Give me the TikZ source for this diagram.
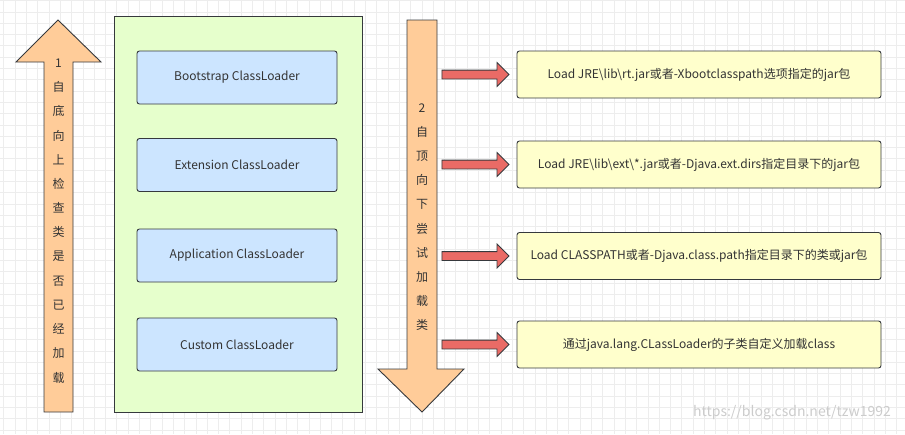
\documentclass[tikz,border=0pt]{standalone}
\usepackage{fontspec}
\setmainfont{Noto Sans CJK SC}
\usetikzlibrary{shapes.arrows,calc}

\definecolor{orangefill}{HTML}{FFCC99}
\definecolor{greenfill}{HTML}{E6FFCC}
\definecolor{bluefill}{HTML}{CCE5FF}
\definecolor{yellowfill}{HTML}{FFFFCC}
\definecolor{redfill}{HTML}{EA6B66}
\definecolor{edge}{HTML}{36393D}
\definecolor{ink}{HTML}{333333}

\begin{document}
\begin{tikzpicture}[x=1pt, y=-1pt,
    every node/.style={font=\fontsize{12}{14}\selectfont, text=ink},
    gridline/.style={draw=black!7, line width=0.5pt},
    bigarrow/.style={fill=orangefill, draw=edge, line width=0.9pt, line join=miter},
    loaderbox/.style={draw=edge, fill=bluefill, line width=0.9pt, rounded corners=2.5pt,
        minimum width=200pt, minimum height=53pt, inner sep=0pt},
    pathbox/.style={draw=edge, fill=yellowfill, line width=0.9pt, rounded corners=2.5pt,
        minimum width=364pt, minimum height=47pt, inner sep=0pt},
    redarrow/.style={single arrow, draw=edge, fill=redfill, line width=0.8pt,
        minimum height=67pt, inner sep=4pt, single arrow head extend=7.5pt,
        single arrow head indent=0pt, anchor=tip}]
    \useasboundingbox (0,0) rectangle (905,434);
    % Background grid
    \fill[white] (0,0) rectangle (905,434);
    \foreach \x in {3.7,15,...,905}
        \draw[gridline] (\x,0) -- (\x,434);
    \foreach \y in {0.5,11.8,...,434}
        \draw[gridline] (0,\y) -- (905,\y);

    % Left arrow: bottom-up check
    \draw[bigarrow] (58,20) -- (101,62) -- (73,62) -- (73,412) -- (44,412) -- (44,62) -- (16,62) -- cycle;
    \foreach \c [count=\i] in {1,自,底,向,上,检,查,类,是,否,已,经,加,载}
        \node (up\i) at (58.5, {63+24.2*(\i-1)}) {\c};

    % Class loader panel
    \draw[fill=greenfill, draw=edge, line width=0.9pt] (114,16) rectangle (362,412);
    \node[loaderbox] (boot) at (237,77.5)  {Bootstrap ClassLoader};
    \node[loaderbox] (ext)  at (237,165)   {Extension ClassLoader};
    \node[loaderbox] (app)  at (237,255.5) {Application ClassLoader};
    \node[loaderbox] (cust) at (237,344.5) {Custom ClassLoader};

    % Right arrow: top-down load
    \draw[bigarrow] (407,20) -- (437,20) -- (437,369) -- (464,369) -- (422,412) -- (378,369) -- (407,369) -- cycle;
    \foreach \c [count=\i] in {2,自,顶,向,下,尝,试,加,载,类}
        \node (down\i) at (422, {108+24.1*(\i-1)}) {\c};

    % Load paths
    \node[pathbox] (load1) at (699,74.5)  {Load JRE\textbackslash lib\textbackslash rt.jar或者-Xbootclasspath选项指定的jar包};
    \node[pathbox] (load2) at (699,164.5) {Load JRE\textbackslash lib\textbackslash ext\textbackslash *.jar或者-Djava.ext.dirs指定目录下的jar包};
    \node[pathbox] (load3) at (699,256)   {Load CLASSPATH或者-Djava.class.path指定目录下的类或jar包};
    \node[pathbox] (load4) at (699,344.5) {通过java.lang.CLassLoader的子类自定义加载class};
    \foreach \n in {1,...,4}
        \node[redarrow] (arr\n) at ($(load\n.west)+(-7,0)$) {};

    % Watermark
    \node[text=black!20, font=\fontsize{14}{16}\selectfont] (mark) at (792,413) {https://blog.csdn.net/tzw1992};
\end{tikzpicture}
\end{document}
